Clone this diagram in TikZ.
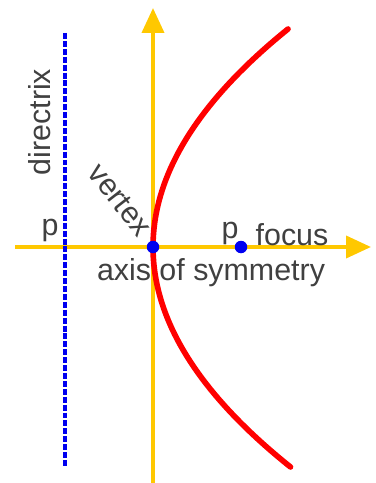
\documentclass[tikz,border=0pt]{standalone}
\usepackage{fontspec}
\setmainfont{Liberation Sans}
\usetikzlibrary{arrows.meta}
\definecolor{ax-gold}{HTML}{FFC800}
\definecolor{pb-red}{HTML}{FF0000}
\definecolor{dx-blue}{HTML}{0000F0}
\definecolor{lb-text}{HTML}{404040}
\begin{document}
\begin{tikzpicture}[
    x=0.02cm, y=-0.02cm,
    axis/.style={draw=ax-gold, line width=2.2pt, -{Triangle[length=0.5cm, width=0.44cm]}},
    curve/.style={draw=pb-red, line width=3.2pt, line cap=round},
    dirline/.style={draw=dx-blue, line width=1.9pt, dash pattern=on 3.4pt off 1.1pt},
    pt/.style={circle, fill=dx-blue, inner sep=0pt, minimum size=0.25cm},
    lbl/.style={font=\fontsize{17.3}{20}\selectfont, text=lb-text, inner sep=0pt}
]
\useasboundingbox (0,0) rectangle (375,483);

% axes
\coordinate (xstart) at (15,247);
\coordinate (xend) at (371,247);
\coordinate (ystart) at (153,483);
\coordinate (yend) at (153,8);
\draw[axis] (xstart) -- (xend);
\draw[axis] (ystart) -- (yend);

% directrix
\coordinate (dtop) at (65,33);
\coordinate (dbot) at (65,466);
\draw[dirline] (dtop) -- (dbot);

% parabola
\draw[curve, domain=-218:220, samples=80] plot ({153+(\x/20)*(\x/17.6)}, {247+\x});

% points
\node[pt] (vertex) at (153,247) {};
\node[pt] (focus) at (241,247) {};

% labels
\node[lbl, rotate=90] (dirlabel) at (40,122) {directrix};
\node[lbl, rotate=-52] (vxlabel) at (120,200) {vertex};
\node[lbl] (pleft) at (50,230) {p};
\node[lbl] (pright) at (230,233) {p};
\node[lbl] (fclabel) at (292,235) {focus};
\node[lbl] (axlabel) at (211,273) {axis of symmetry};

\end{tikzpicture}
\end{document}
